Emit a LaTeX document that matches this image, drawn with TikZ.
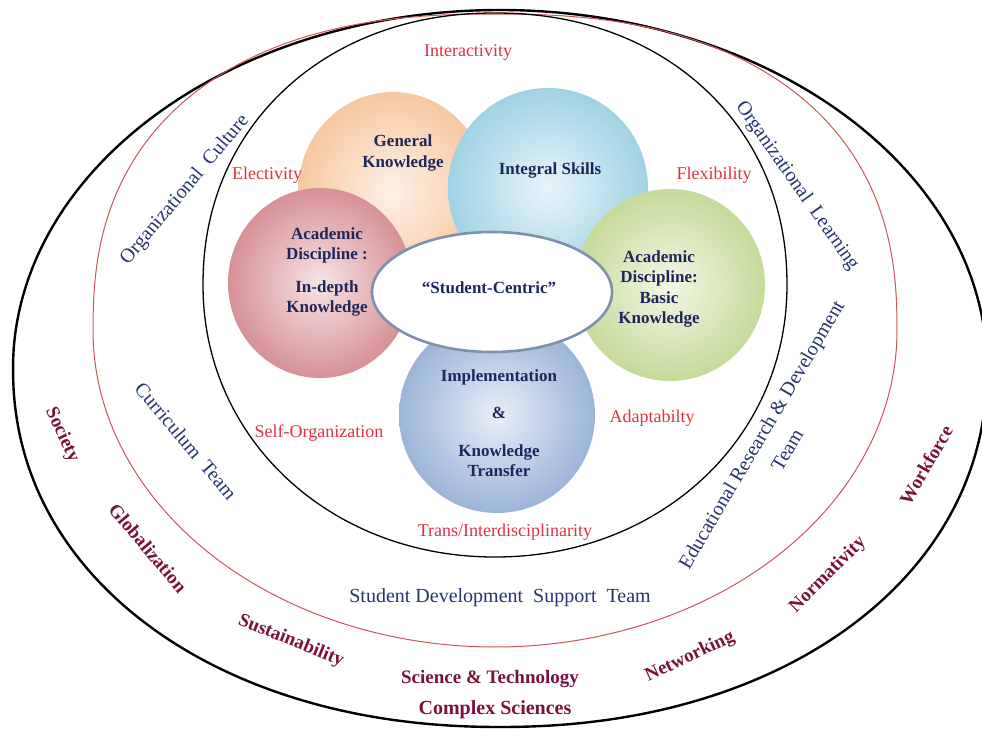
\documentclass[tikz,border=0pt]{standalone}
\usepackage{fontspec}
\setmainfont{Liberation Serif}
\definecolor{labred}{RGB}{225,50,65}
\definecolor{navy}{RGB}{30,38,92}
\definecolor{teamblue}{RGB}{38,52,112}
\definecolor{maroon}{RGB}{122,18,62}
\definecolor{ringred}{RGB}{205,85,90}
\definecolor{orIn}{RGB}{253,241,231}
\definecolor{orOut}{RGB}{247,200,160}
\definecolor{blIn}{RGB}{232,245,250}
\definecolor{blOut}{RGB}{160,210,228}
\definecolor{pkIn}{RGB}{246,228,228}
\definecolor{pkOut}{RGB}{215,145,150}
\definecolor{grIn}{RGB}{243,247,229}
\definecolor{grOut}{RGB}{198,218,155}
\definecolor{lbIn}{RGB}{232,239,248}
\definecolor{lbOut}{RGB}{155,180,215}
\definecolor{elEdge}{RGB}{125,145,175}
\begin{document}
\begin{tikzpicture}[x=1pt,y=-1pt,
  declare function={sx(\t,\q)=cos(\t)*abs(cos(\t))^(\q);sy(\t,\q)=sin(\t)*abs(sin(\t))^(\q);},
  redlab/.style={text=labred,font=\fontsize{18}{21}\selectfont,inner sep=0pt},
  circlab/.style={text=navy,font=\bfseries\fontsize{17}{20.5}\selectfont,align=center,inner sep=0pt},
  teamlab/.style={text=teamblue,font=\fontsize{20}{30}\selectfont,align=center,inner sep=0pt},
  outlab/.style={text=maroon,font=\bfseries\fontsize{19}{22}\selectfont,inner sep=0pt},
  bubble/.style={line width=0.6pt}]
\useasboundingbox (0,0) rectangle (982,728);
\clip (0,0) rectangle (982,728);
\fill[white] (0,0) rectangle (982,728);
% outer black ring
\draw[line width=2.4pt]
  plot[smooth,domain=181:359,samples=90] ({500+487*sx(\x,0)},{368+358*sy(\x,0)})
  -- plot[smooth,domain=1:179,samples=90] ({500+487*sx(\x,-0.05)},{368+359*sy(\x,-0.05)}) -- cycle;
% red ring
\draw[ringred,line width=1pt]
  plot[smooth,domain=181:359,samples=90] ({495+402*sx(\x,-0.167)},{330.5+316.5*sy(\x,-0.167)})
  -- plot[smooth,domain=1:179,samples=90] ({495+402*sx(\x,0)},{330.5+316.5*sy(\x,0)}) -- cycle;
% inner black ring
\draw[line width=1.3pt]
  plot[smooth,domain=181:359,samples=90] ({495+292*sx(\x,-0.05)},{285+272*sy(\x,-0.05)})
  -- plot[smooth,domain=1:179,samples=90] ({495+292*sx(\x,-0.02)},{285+272*sy(\x,-0.02)}) -- cycle;
% bubbles
\shade[bubble,inner color=orIn,outer color=orOut] (393,192) ellipse[x radius=95pt,y radius=100pt];
\shade[bubble,inner color=blIn,outer color=blOut] (548,188) ellipse[x radius=100pt,y radius=100pt];
\shade[bubble,inner color=pkIn,outer color=pkOut] (320,283) ellipse[x radius=92pt,y radius=95pt];
\shade[bubble,inner color=lbIn,outer color=lbOut] (497,415) ellipse[x radius=98pt,y radius=98pt];
\shade[bubble,inner color=grIn,outer color=grOut] (670,285) ellipse[x radius=95pt,y radius=96pt];
\draw[elEdge,line width=2.6pt,fill=white] (492,292) ellipse[x radius=120pt,y radius=60pt];
% red labels
\node[redlab] (interactivity) at (468,52) {Interactivity};
\node[redlab] (electivity) at (267,175) {Electivity};
\node[redlab] (flexibility) at (714,175) {Flexibility};
\node[redlab] (selforg) at (319,433) {Self-Organization};
\node[redlab] (adapt) at (652,418) {Adaptabilty};
\node[redlab] (trans) at (505,532) {Trans/Interdisciplinarity};
% bubble labels
\node[circlab] (genknow) at (403,153) {General\\Knowledge};
\node[circlab] (integral) at (550,170) {Integral Skills};
\node[circlab] (indepth) at (327,272) {Academic\\Discipline :\\[12pt]In-depth\\Knowledge};
\node[circlab] (basic) at (659,289) {Academic\\Discipline:\\Basic\\Knowledge};
\node[circlab] (centric) at (489,288) {“Student-Centric”};
\node[circlab] (implement) at (499,423) {Implementation\\[17pt]\&\\[17pt]Knowledge\\Transfer};
% team labels
\node[teamlab,rotate=50] (orgculture) at (185,190) {Organizational\ \ Culture};
\node[teamlab,rotate=-55] (orglearning) at (797,186) {Organizational\ \ Learning};
\node[teamlab,rotate=-50] (curriculum) at (186,441) {Curriculum\ \ Team};
\node[teamlab,rotate=59.5] (edu) at (774,442) {Educational\ Research \& Development\\Team};
\node[teamlab] (sdst) at (500,598) {Student Development\ \ Support\ \ Team};
% outer labels
\node[outlab,rotate=-65] (society) at (62,435) {Society};
\node[outlab,rotate=-50] (global) at (148,548) {Globalization};
\node[outlab,rotate=-22] (sustain) at (291,641) {Sustainability};
\node[outlab] (scitech) at (490,679) {Science \& Technology};
\node[outlab,font=\bfseries\fontsize{20}{22}\selectfont] (complex) at (495,710) {Complex Sciences};
\node[outlab,rotate=25] (network) at (690,657) {Networking};
\node[outlab,rotate=45] (norm) at (828,575) {Normativity};
\node[outlab,rotate=60] (workforce) at (926,465) {Workforce};
\end{tikzpicture}
\end{document}
